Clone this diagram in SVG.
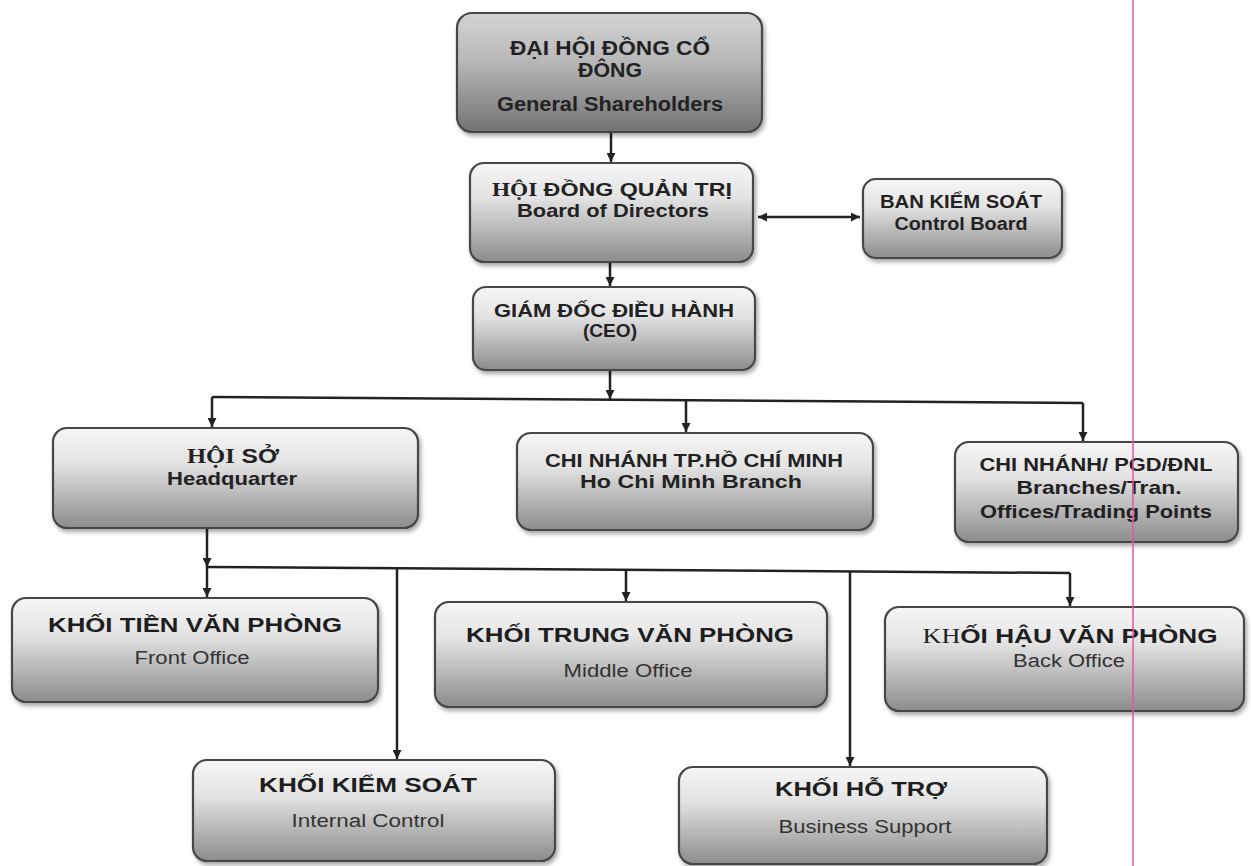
<svg xmlns="http://www.w3.org/2000/svg" width="1251" height="866" viewBox="0 0 1251 866">
<defs>
<linearGradient id="g" x1="0" y1="0" x2="0" y2="1">
<stop offset="0" stop-color="#f6f6f6"/>
<stop offset="0.35" stop-color="#e3e3e3"/>
<stop offset="1" stop-color="#8c8c8c"/>
</linearGradient>
<linearGradient id="g1" x1="0" y1="0" x2="0" y2="1">
<stop offset="0" stop-color="#d4d4d4"/>
<stop offset="0.4" stop-color="#b8b8b8"/>
<stop offset="1" stop-color="#727272"/>
</linearGradient>
<filter id="sh" x="-5%" y="-5%" width="115%" height="125%">
<feDropShadow dx="2" dy="3" stdDeviation="2" flood-color="#000" flood-opacity="0.35"/>
</filter>
<marker id="ah" viewBox="0 0 10 10" refX="10" refY="5" markerWidth="9" markerHeight="9" markerUnits="userSpaceOnUse" orient="auto-start-reverse">
<path d="M0,0 L10,5 L0,10 z" fill="#222"/>
</marker>
</defs>
<style>
.box{fill:url(#g);stroke:#474747;stroke-width:2.2;filter:url(#sh)}
.box1{fill:url(#g1);stroke:#474747;stroke-width:2.2;filter:url(#sh)}
.t{font-family:"Liberation Sans",Arial,sans-serif;font-weight:bold;fill:#222;text-anchor:middle}
.h{font-family:"Liberation Sans",Arial,sans-serif;font-weight:bold;fill:#1e1e1e;text-anchor:middle;font-size:21px}
.s{font-family:"Liberation Sans",Arial,sans-serif;font-weight:normal;fill:#333;text-anchor:middle;font-size:18px}
.serif{font-family:"Liberation Serif","Times New Roman",serif}
.c{fill:none;stroke:#222;stroke-width:2.5}
.a{marker-end:url(#ah)}
</style>
<rect width="1251" height="866" fill="#ffffff"/>

<g id="connectors">
<path class="c a" d="M611,132 V162"/>
<path class="c a" d="M610,262 V286"/>
<path class="c" d="M758,217 H860" marker-start="url(#ah)" marker-end="url(#ah)"/>
<path class="c a" d="M610,370 V399"/>
<path class="c" d="M212,397 L1083,403"/>
<path class="c a" d="M212,397 V427"/>
<path class="c a" d="M686,400 V432"/>
<path class="c a" d="M1083,403 V441"/>
<path class="c a" d="M207,528 V567"/>
<path class="c" d="M207,567 L1070,573"/>
<path class="c a" d="M207,567 V597"/>
<path class="c" d="M397,568 V759" marker-end="url(#ah)"/>
<path class="c a" d="M626,570 V601"/>
<path class="c" d="M850,571.5 V766" marker-end="url(#ah)"/>
<path class="c a" d="M1070,573 V606"/>
</g>

<g id="n-dhdcd">
<rect class="box1" x="457" y="13" width="305" height="119" rx="15"/>
<text class="t" x="610" y="55" font-size="20" textLength="200" lengthAdjust="spacingAndGlyphs">ĐẠI HỘI ĐỒNG CỔ</text>
<text class="t" x="610" y="77" font-size="20" textLength="64" lengthAdjust="spacingAndGlyphs">ĐÔNG</text>
<text class="t" x="610" y="111" font-size="20" textLength="226" lengthAdjust="spacingAndGlyphs">General Shareholders</text>
</g>

<g id="n-hdqt">
<rect class="box" x="470" y="163" width="283" height="99" rx="14"/>
<text class="t" x="612" y="196" font-size="19" textLength="240" lengthAdjust="spacingAndGlyphs"><tspan class="serif">HỘI</tspan> ĐỒNG QUẢN TRỊ</text>
<text class="t" x="613" y="217" font-size="19" textLength="192" lengthAdjust="spacingAndGlyphs">Board of Directors</text>
</g>

<g id="n-bks">
<rect class="box" x="863" y="179" width="199" height="79" rx="13"/>
<text class="t" x="961" y="208" font-size="18" textLength="162" lengthAdjust="spacingAndGlyphs">BAN KIỂM SOÁT</text>
<text class="t" x="961" y="230" font-size="18" textLength="133" lengthAdjust="spacingAndGlyphs">Control Board</text>
</g>

<g id="n-ceo">
<rect class="box" x="473" y="287" width="282" height="83" rx="13"/>
<text class="t" x="614" y="317" font-size="19" textLength="240" lengthAdjust="spacingAndGlyphs">GIÁM ĐỐC ĐIỀU HÀNH</text>
<text class="t" x="610" y="337" font-size="19" textLength="54" lengthAdjust="spacingAndGlyphs">(CEO)</text>
</g>

<g id="n-hoiso">
<rect class="box" x="53" y="428" width="365" height="100" rx="14"/>
<text class="t" x="233" y="463" font-size="20" textLength="92" lengthAdjust="spacingAndGlyphs"><tspan class="serif">HỘI</tspan> SỞ</text>
<text class="t" x="232" y="485" font-size="19" textLength="130" lengthAdjust="spacingAndGlyphs">Headquarter</text>
</g>

<g id="n-hcm">
<rect class="box" x="517" y="433" width="356" height="97" rx="14"/>
<text class="t" x="694" y="467" font-size="19" textLength="298" lengthAdjust="spacingAndGlyphs">CHI NHÁNH TP.HỒ CHÍ MINH</text>
<text class="t" x="691" y="488" font-size="19" textLength="222" lengthAdjust="spacingAndGlyphs">Ho Chi Minh Branch</text>
</g>

<g id="n-branches">
<rect class="box" x="955" y="442" width="283" height="100" rx="14"/>
<text class="t" x="1096" y="471" font-size="19" textLength="233" lengthAdjust="spacingAndGlyphs">CHI NHÁNH/ PGD/ĐNL</text>
<text class="t" x="1099" y="494" font-size="19" textLength="165" lengthAdjust="spacingAndGlyphs">Branches/Tran.</text>
<text class="t" x="1096" y="518" font-size="19" textLength="232" lengthAdjust="spacingAndGlyphs">Offices/Trading Points</text>
</g>

<g id="n-front">
<rect class="box" x="12" y="598" width="366" height="104" rx="14"/>
<text class="h" x="195" y="632" textLength="294" lengthAdjust="spacingAndGlyphs">KHỐI TIỀN VĂN PHÒNG</text>
<text class="s" x="192" y="664" textLength="115" lengthAdjust="spacingAndGlyphs">Front Office</text>
</g>

<g id="n-middle">
<rect class="box" x="435" y="602" width="392" height="105" rx="14"/>
<text class="h" x="630" y="642" textLength="328" lengthAdjust="spacingAndGlyphs">KHỐI TRUNG VĂN PHÒNG</text>
<text class="s" x="628" y="677" textLength="129" lengthAdjust="spacingAndGlyphs">Middle Office</text>
</g>

<g id="n-back">
<rect class="box" x="885" y="607" width="359" height="104" rx="14"/>
<text class="h" x="1070" y="643" textLength="295" lengthAdjust="spacingAndGlyphs"><tspan class="serif" font-weight="normal">KH</tspan>ỐI HẬU VĂN PHÒNG</text>
<text class="s" x="1069" y="667" textLength="112" lengthAdjust="spacingAndGlyphs">Back Office</text>
</g>

<g id="n-control">
<rect class="box" x="193" y="760" width="362" height="101" rx="14"/>
<text class="h" x="368" y="792" textLength="218" lengthAdjust="spacingAndGlyphs">KHỐI KIỂM SOÁT</text>
<text class="s" x="368" y="827" textLength="153" lengthAdjust="spacingAndGlyphs">Internal Control</text>
</g>

<g id="n-support">
<rect class="box" x="679" y="767" width="368" height="97" rx="14"/>
<text class="h" x="861" y="796" textLength="172" lengthAdjust="spacingAndGlyphs">KHỐI HỖ TRỢ</text>
<text class="s" x="865" y="833" textLength="173" lengthAdjust="spacingAndGlyphs">Business Support</text>
</g>

<line x1="1133" y1="0" x2="1133" y2="866" stroke="#e6559f" stroke-width="1.5"/>
</svg>
